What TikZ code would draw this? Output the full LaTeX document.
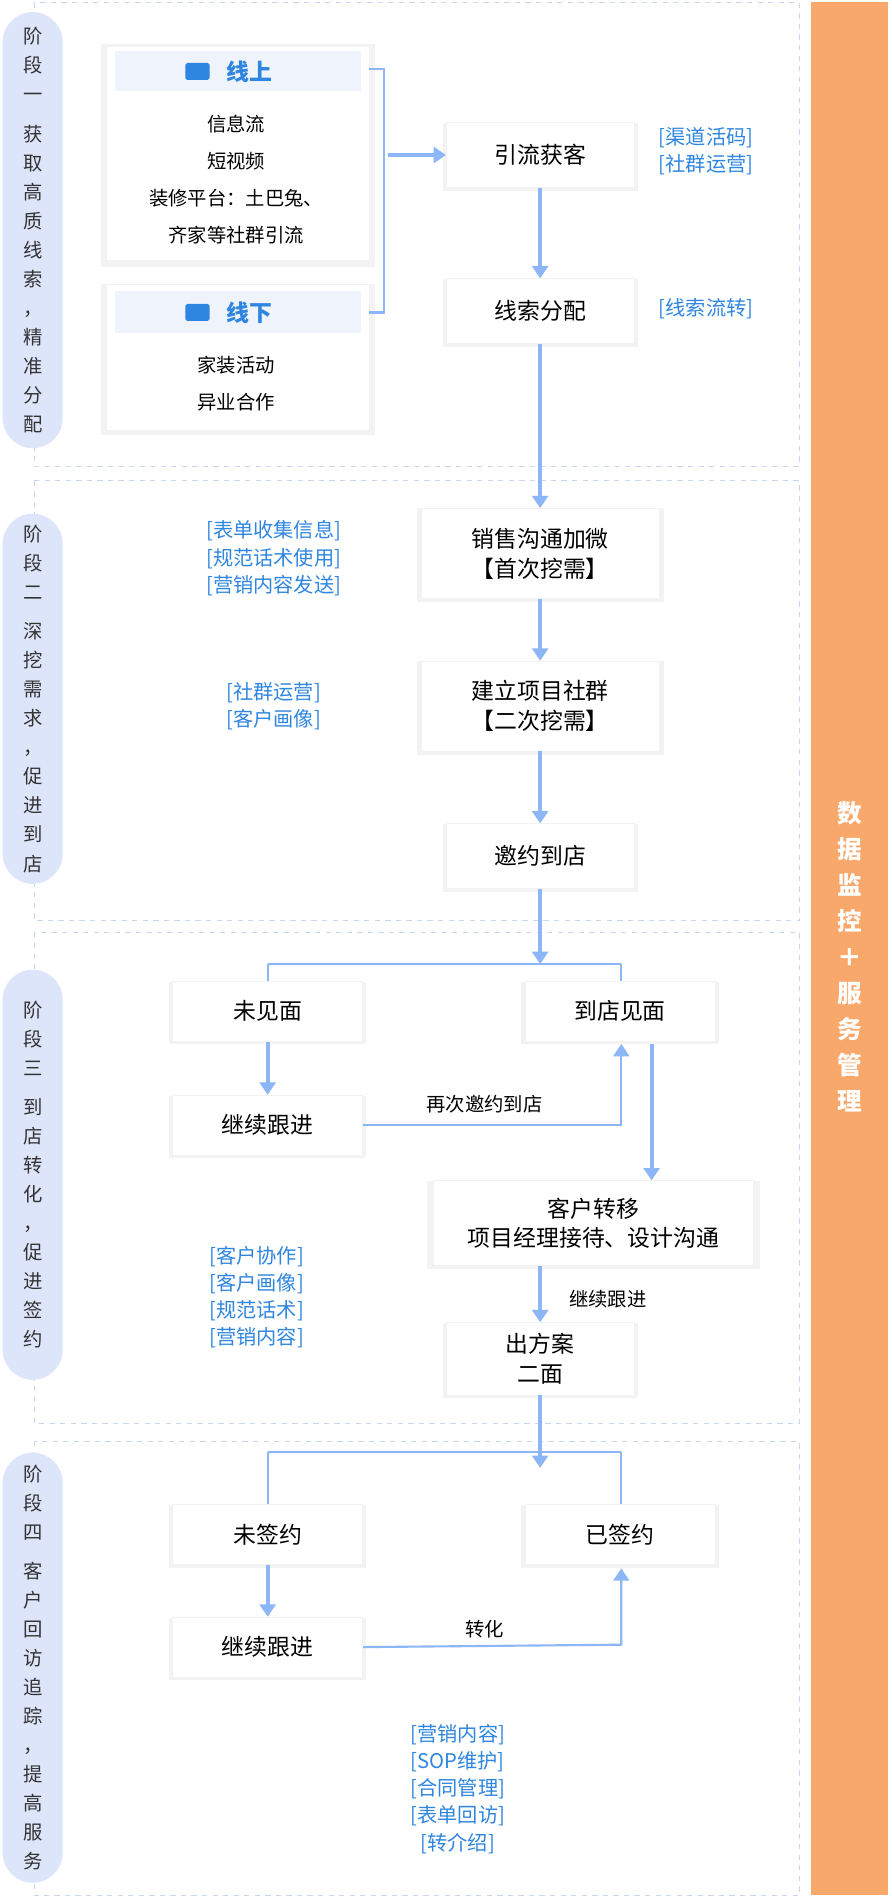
\documentclass[tikz,border=0pt]{standalone}
\usepackage{fontspec}
\setmainfont{Noto Sans CJK SC}
\usepackage{tikz}
\usetikzlibrary{arrows.meta,shadows,positioning}
\definecolor{flowblue}{HTML}{8DB6F6}
\definecolor{lblblue}{HTML}{2F86E0}
\definecolor{pillbg}{HTML}{DDE5FA}
\definecolor{dashc}{HTML}{C9D6EE}
\definecolor{barc}{HTML}{F9A86C}
\definecolor{headbg}{HTML}{EEF3FC}
\tikzset{
  softshadow/.style={drop shadow={opacity=0.09,shadow xshift=0pt,shadow yshift=-1pt,shadow scale=1.04}},
  stepbox/.style={fill=white,draw=black!5,softshadow,
    minimum width=3.75cm,minimum height=1.3cm,align=center,font=\fontsize{13}{17}\selectfont},
  widebox/.style={stepbox,minimum width=4.75cm,minimum height=1.8cm},
  lbl/.style={text=lblblue,align=center,font=\fontsize{11.5}{15.5}\selectfont},
  pill/.style={fill=pillbg,rounded corners=0.6cm,minimum width=1.2cm,align=center,
    font=\fontsize{11}{16.5}\selectfont,text=black!80},
  stage/.style={draw=dashc,dashed},
  flow/.style={draw=flowblue,line width=2.2pt,-{Triangle[length=7pt,width=9pt]}},
  link/.style={draw=flowblue,line width=1.2pt},
  linkarr/.style={link,-{Triangle[length=7pt,width=9pt]}},
  card/.style={fill=white,draw=black!5,softshadow},
}
\begin{document}
\begin{tikzpicture}[x=0.024212cm,y=-0.024212cm]
  \useasboundingbox[fill=white] (0,0) rectangle (736,1568);
  % stages
  \draw[stage] (28,2) rectangle (660,385);
  \draw[stage] (28,397) rectangle (660,760);
  \draw[stage] (28,770) rectangle (660,1175);
  \draw[stage] (28,1190) rectangle (660,1565);
  % stage pills
  \node[pill,minimum height=8.72cm] (p1) at (27,190) {阶\\段\\一\\[6pt]获\\取\\高\\质\\线\\索\\，\\精\\准\\分\\配};
  \node[pill,minimum height=7.4cm] (p2) at (27,577) {阶\\段\\二\\[6pt]深\\挖\\需\\求\\，\\促\\进\\到\\店};
  \node[pill,minimum height=8.2cm] (p3) at (27,970) {阶\\段\\三\\[6pt]到\\店\\转\\化\\，\\促\\进\\签\\约};
  \node[pill,minimum height=8.6cm] (p4) at (27,1377) {阶\\段\\四\\[6pt]客\\户\\回\\访\\追\\踪\\，\\提\\高\\服\\务};
  % right bar
  \fill[barc] (670,2) rectangle (733,1565);
  \node[text=white,align=center,font=\bfseries\fontsize{14}{20.5}\selectfont] (bar) at (702,790)
    {数\\据\\监\\控\\＋\\服\\务\\管\\理};
  % channel cards
  \path[card] (88,38) rectangle (305,215);
  \fill[headbg] (95,42) rectangle (298,75);
  \fill[lblblue,rounded corners=1pt] (153,52) rectangle (173,66);
  \node[text=lblblue,font=\bfseries\fontsize{13}{16}\selectfont,anchor=west] (on) at (182,59) {线上};
  \node[align=center,font=\fontsize{11}{21}\selectfont] (ontxt) at (195,148) {信息流\\短视频\\装修平台：土巴兔、\\齐家等社群引流};
  \path[card] (88,235) rectangle (305,355);
  \fill[headbg] (95,240) rectangle (298,275);
  \fill[lblblue,rounded corners=1pt] (153,251) rectangle (173,265);
  \node[text=lblblue,font=\bfseries\fontsize{13}{16}\selectfont,anchor=west] (off) at (182,258) {线下};
  \node[align=center,font=\fontsize{11}{21}\selectfont] (offtxt) at (195,317) {家装活动\\异业合作};
  \draw[link] (305,57) -- (317,57) -- (317,258) -- (305,258);
  % stage one
  \node[stepbox] (yl) at (446,128) {引流获客};
  \node[stepbox] (xs) at (446,257) {线索分配};
  \draw[flow] (320,128) -- (yl.west);
  \draw[flow] (yl) -- (xs);
  \node[lbl] at (583,125) {{[渠道活码]}\\{[社群运营]}};
  \node[lbl] at (583,255) {{[线索流转]}};
  % stage two
  \node[widebox] (xsgt) at (446,457) {销售沟通加微\\【首次挖需】};
  \node[widebox] (jlsq) at (446,583) {建立项目社群\\【二次挖需】};
  \node[stepbox] (yy) at (446,707) {邀约到店};
  \draw[flow] (xs) -- (xsgt);
  \draw[flow] (xsgt) -- (jlsq);
  \draw[flow] (jlsq) -- (yy);
  \node[lbl] at (226,461) {{[表单收集信息]}\\{[规范话术使用]}\\{[营销内容发送]}};
  \node[lbl] at (226,583) {{[社群运营]}\\{[客户画像]}};
  % stage three
  \node[stepbox,minimum width=3.8cm,minimum height=1.2cm] (wjm) at (221,835) {未见面};
  \node[stepbox,minimum width=3.8cm,minimum height=1.2cm] (ddjm) at (512,835) {到店见面};
  \node[stepbox,minimum width=3.8cm,minimum height=1.2cm] (jxgj) at (221,929) {继续跟进};
  \node[widebox,minimum width=6.4cm,minimum height=1.7cm] (khzy) at (490,1010) {客户转移\\项目经理接待、设计沟通};
  \node[stepbox,minimum height=1.45cm] (cfa) at (446,1122) {出方案\\二面};
  \draw[flow] (yy) -- (446,796);
  \draw[link] (221,796) -- (513,796);
  \draw[link] (221,796) -- (wjm.north);
  \draw[link] (513,796) -- (513,810);
  \draw[flow] (wjm) -- (jxgj);
  \draw[linkarr] (jxgj.east) -- (513,929) -- (513,862);
  \node[font=\fontsize{11}{14}\selectfont] at (400,912) {再次邀约到店};
  \draw[flow] (538,862) -- (khzy.north -| 538,0);
  \draw[flow] (khzy.south -| cfa) -- (cfa);
  \node[font=\fontsize{11}{14}\selectfont] at (502,1073) {继续跟进};
  \node[lbl] at (212,1071) {{[客户协作]}\\{[客户画像]}\\{[规范话术]}\\{[营销内容]}};
  % stage four
  \node[stepbox,minimum width=3.8cm,minimum height=1.2cm] (wqy) at (221,1267) {未签约};
  \node[stepbox,minimum width=3.8cm,minimum height=1.2cm] (yqy) at (512,1267) {已签约};
  \node[stepbox,minimum width=3.8cm,minimum height=1.2cm] (jxgj2) at (221,1360) {继续跟进};
  \draw[flow] (cfa) -- (446,1212);
  \draw[link] (221,1199) -- (513,1199);
  \draw[link] (221,1199) -- (wqy.north);
  \draw[link] (513,1199) -- (yqy.north -| 513,0);
  \draw[flow] (wqy) -- (jxgj2);
  \draw[linkarr] (jxgj2.east) -- (513,1358) -- (513,1295);
  \node[font=\fontsize{11}{14}\selectfont] at (400,1345) {转化};
  \node[lbl] at (378,1477) {{[营销内容]}\\{[SOP维护]}\\{[合同管理]}\\{[表单回访]}\\{[转介绍]}};
\end{tikzpicture}
\end{document}
